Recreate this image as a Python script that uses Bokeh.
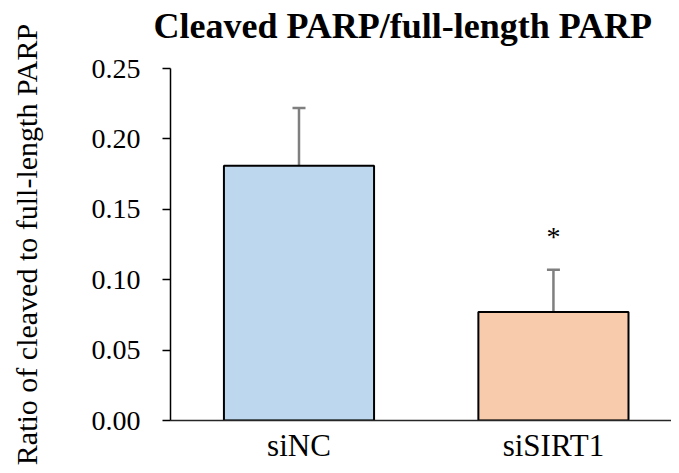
from bokeh.plotting import figure
from bokeh.models import ColumnDataSource, FixedTicker, Whisker, TeeHead, Range1d, NumeralTickFormatter, Title
from bokeh.core.properties import value
from bokeh.embed import file_html
from bokeh.resources import INLINE

categories = ["siNC", "siSIRT1"]
ratios = [0.181, 0.077]
errors = [0.041, 0.030]
colors = ["#BDD7EE", "#F8CBAD"]
marks = ["", "*"]
y_ticks = [0.0, 0.05, 0.10, 0.15, 0.20, 0.25]

xs = list(range(1, len(categories) + 1))
uppers = [r + e for r, e in zip(ratios, errors)]
src = ColumnDataSource(dict(x=xs, top=ratios, upper=uppers, color=colors, mark=marks))

FONT = "Times New Roman"

p = figure(width=671, height=465, output_backend="svg", toolbar_location=None,
           x_range=Range1d(0.495, 2.464), y_range=Range1d(0, 0.25),
           min_border_left=170, min_border_right=0, min_border_top=68, min_border_bottom=45)
p.title.text = "Cleaved PARP/full-length PARP"
p.title.text_font = FONT
p.title.text_font_size = "36px"
p.title.text_font_style = "bold"
p.title.text_color = "black"
p.title.align = "left"
p.title.offset = -17
p.title.standoff = 0

# spacer between title and plot frame
p.add_layout(Title(text=" ", text_font=FONT, text_font_size="19px", standoff=0), "above")

p.vbar(x="x", top="top", width=0.59, bottom=0, fill_color="color", line_color="black",
       line_width=2, source=src)
w = Whisker(source=src, base="x", lower="top", upper="upper", line_color="#7f7f7f",
            line_width=2.5, lower_head=None,
            upper_head=TeeHead(size=13, line_color="#7f7f7f", line_width=2.5))
p.add_layout(w)
p.text(x="x", y="upper", text="mark", source=src, text_font=value(FONT),
       text_font_size="28px", text_align="center", text_baseline="alphabetic",
       y_offset=-33, text_color="black")

p.xgrid.visible = False
p.ygrid.visible = False
p.outline_line_color = None

p.yaxis.ticker = FixedTicker(ticks=y_ticks)
p.yaxis.formatter = NumeralTickFormatter(format="0.00")
p.yaxis.minor_tick_line_color = None
p.yaxis.major_tick_out = 8
p.yaxis.major_tick_in = 0
p.yaxis.major_tick_line_width = 1.5
p.yaxis.axis_line_width = 1.5
p.yaxis.axis_line_color = "black"
p.yaxis.major_tick_line_color = "black"
p.yaxis.major_label_standoff = 22
p.yaxis.major_label_text_font = FONT
p.yaxis.major_label_text_font_size = "28px"
p.yaxis.major_label_text_color = "black"
p.yaxis.axis_label = "Ratio of cleaved to full-length PARP"
p.yaxis.axis_label_text_font = FONT
p.yaxis.axis_label_text_font_size = "30px"
p.yaxis.axis_label_text_font_style = "normal"
p.yaxis.axis_label_text_color = "black"
p.yaxis.axis_label_standoff = 46

p.xaxis.ticker = FixedTicker(ticks=xs)
p.xaxis.major_label_overrides = {x: c for x, c in zip(xs, categories)}
p.xaxis.major_tick_line_color = None
p.xaxis.major_tick_out = 0
p.xaxis.major_tick_in = 0
p.xaxis.minor_tick_line_color = None
p.xaxis.axis_line_width = 1.5
p.xaxis.axis_line_color = "#262626"
p.xaxis.major_label_standoff = 7
p.xaxis.major_label_text_font = FONT
p.xaxis.major_label_text_font_size = "31px"
p.xaxis.major_label_text_color = "black"

open("out.html", "w").write(file_html(p, INLINE))
